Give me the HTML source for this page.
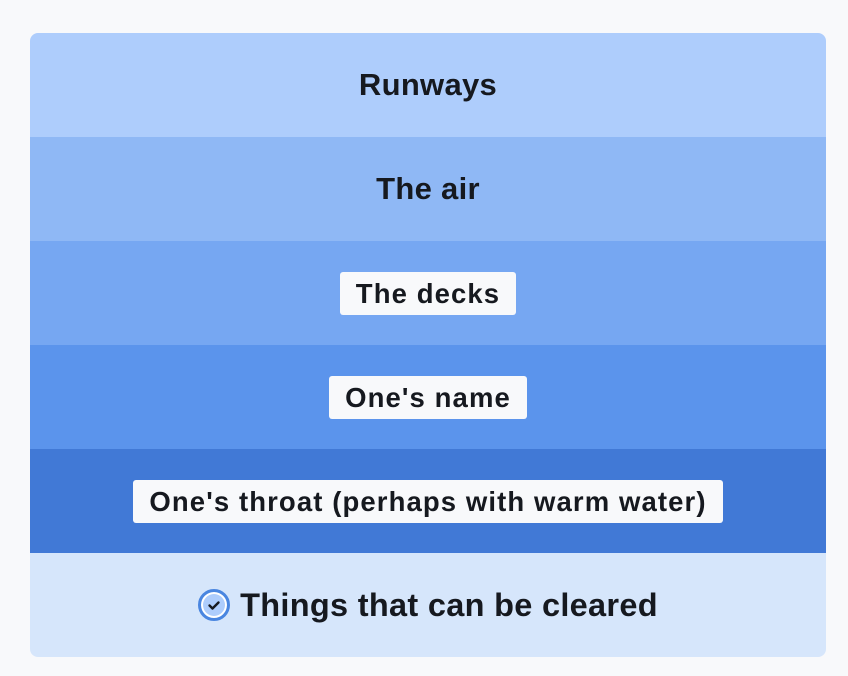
<!DOCTYPE html>
<html><head><meta charset="utf-8"><style>
html,body{margin:0;padding:0;width:848px;height:676px;background:#f8f9fb;font-family:"Liberation Sans",sans-serif;overflow:hidden}
.card{position:absolute;left:30px;top:33px;width:796px;height:624px;border-radius:8px;overflow:hidden}
.band{height:104px;display:flex;align-items:center;justify-content:center;color:#16191f;font-weight:bold}
.t{font-size:31px;letter-spacing:0.3px}
.lab{background:#f8f9fb;border-radius:3px;font-size:27.5px;padding:0 16px;height:43px;line-height:43px;letter-spacing:1.1px}
.ic{display:inline-block;width:26px;height:26px;border:3px solid #4a86e0;border-radius:50%;background:#aecdfc;box-shadow:inset 0 0 0 2px #fff;margin-right:10px;position:relative;vertical-align:middle}
</style></head><body>
<div class="card">
<div class="band t" style="background:#aecdfc">Runways</div>
<div class="band t" style="background:#8fb8f5">The air</div>
<div class="band" style="background:#76a7f2"><span class="lab">The decks</span></div>
<div class="band" style="background:#5b94ec"><span class="lab">One's name</span></div>
<div class="band" style="background:#4179d6"><span class="lab">One's throat (perhaps with warm water)</span></div>
<div class="band t" style="background:#d6e6fb;font-size:32.5px"><span class="ic"><svg width="26" height="26" viewBox="0 0 26 26" style="position:absolute;left:0;top:0"><path d="M8.5 13.5l3 3 6-6" stroke="#16191f" stroke-width="2.4" fill="none" stroke-linecap="round" stroke-linejoin="round"/></svg></span>Things that can be cleared</div>
</div>
</body></html>
